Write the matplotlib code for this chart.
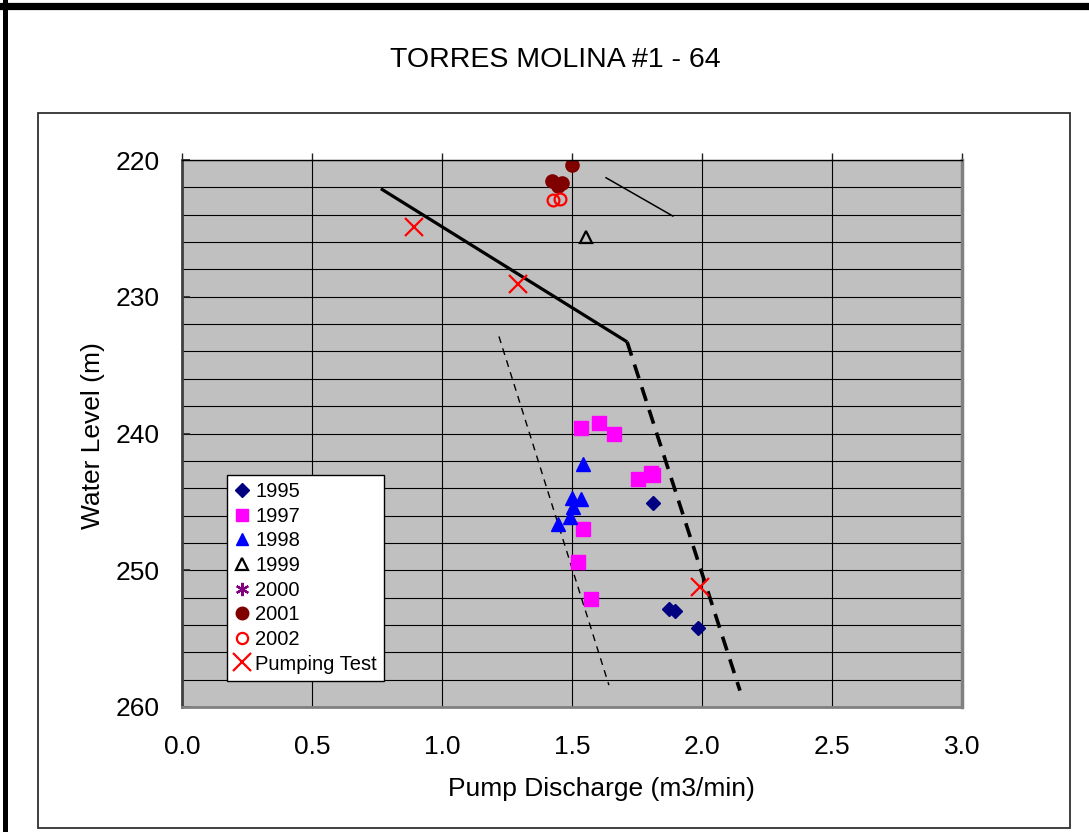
import numpy as np
import matplotlib
matplotlib.use("Agg")
import matplotlib.pyplot as plt
from matplotlib.ticker import MultipleLocator
from matplotlib.lines import Line2D
from matplotlib.patches import Rectangle

plt.rcParams['font.family'] = ['Liberation Sans', 'DejaVu Sans']

# data: pump discharge (m3/min), water level (m)
q_1995 = [1.812, 1.873, 1.896, 1.985]
wl_1995 = [245.1, 252.8, 253.0, 254.2]

q_1997 = [1.535, 1.604, 1.662, 1.754, 1.804, 1.812, 1.542, 1.523, 1.573]
wl_1997 = [239.6, 239.2, 240.0, 243.3, 242.9, 243.0, 247.0, 249.4, 252.1]

q_1998 = [1.542, 1.500, 1.535, 1.504, 1.492, 1.446]
wl_1998 = [242.2, 244.7, 244.8, 245.4, 246.1, 246.6]

q_1999 = [1.554]
wl_1999 = [225.6]

q_2000 = []
wl_2000 = []

q_2001 = [1.500, 1.423, 1.462, 1.445]
wl_2001 = [220.4, 221.5, 221.7, 221.9]

q_2002 = [1.427, 1.454]
wl_2002 = [222.9, 222.85]

q_test = [0.892, 1.292, 1.992]
wl_test = [224.9, 229.1, 251.2]

# hand drawn trend lines
solid_q = [0.765, 1.712]
solid_wl = [222.1, 233.3]
thick_dash_q = [1.712, 2.146]
thick_dash_wl = [233.3, 258.8]
thin_dash_q = [1.219, 1.642]
thin_dash_wl = [232.9, 258.4]
short_q = [1.631, 1.888]
short_wl = [221.3, 224.1]

fig = plt.figure(figsize=(10.89, 8.32), dpi=100)
W, H = 1089.0, 832.0

# outer frame (thick, only top and left visible) and inner chart frame
fig.add_artist(Line2D([0, 1], [1 - 6 / H, 1 - 6 / H], transform=fig.transFigure,
                      color='black', lw=5.2))
fig.add_artist(Line2D([5 / W, 5 / W], [0, 1], transform=fig.transFigure,
                      color='black', lw=3.6))
fig.add_artist(Rectangle((38 / W, 1 - 828 / H), (1070 - 38) / W, (828 - 113) / H,
                         transform=fig.transFigure, fill=False,
                         edgecolor='#303030', lw=1.3))

ax = fig.add_axes([182 / W, 1 - 707 / H, (962 - 182) / W, (707 - 160) / H])
ax.set_facecolor('#C0C0C0')

# trend lines
ax.plot(solid_q, solid_wl, color='black', lw=2.3, solid_capstyle='butt')
ax.plot(thick_dash_q, thick_dash_wl, color='black', lw=2.6, dashes=(4, 2.6))
ax.plot(thin_dash_q, thin_dash_wl, color='black', lw=1.0, dashes=(5, 4))
ax.plot(short_q, short_wl, color='black', lw=1.1)

# data series
ax.plot(q_1995, wl_1995, ls='none', marker='D', ms=7.5, color='#000080', label='1995')
ax.plot(q_1997, wl_1997, ls='none', marker='s', ms=9.5, color='#FF00FF', label='1997')
ax.plot(q_1998, wl_1998, ls='none', marker='^', ms=9.5, color='#0000FF', label='1998')
ax.plot(q_1999, wl_1999, ls='none', marker='^', ms=8.5, mfc='none', mec='black',
        mew=1.6, label='1999')
ax.plot(q_2000, wl_2000, ls='none', marker=(6, 2, 0), ms=10, mec='#800080',
        mew=1.6, label='2000')
ax.plot(q_2001, wl_2001, ls='none', marker='o', ms=9.5, color='#800000', label='2001')
ax.plot(q_2002, wl_2002, ls='none', marker='o', ms=8.5, mfc='none', mec='#FF0000',
        mew=1.6, label='2002')
ax.plot(q_test, wl_test, ls='none', marker='x', ms=13, mec='#FF0000', mew=1.6,
        label='Pumping Test')

ax.set_xlim(0, 3)
ax.set_ylim(260, 220)
ax.xaxis.set_major_locator(MultipleLocator(0.5))
ax.yaxis.set_major_locator(MultipleLocator(10))
ax.yaxis.set_minor_locator(MultipleLocator(2))
ax.xaxis.set_major_formatter(matplotlib.ticker.FormatStrFormatter('%.1f'))
ax.grid(True, which='both', color='black', lw=0.8)
ax.set_axisbelow(True)

ax.tick_params(axis='x', bottom=False, top=True, labelbottom=True, labeltop=False,
               direction='out', length=5, width=1, color='#202020', pad=15,
               labelsize=19)
ax.tick_params(axis='y', which='major', left=True, right=False, direction='in',
               length=6, width=1.2, color='#202020', pad=16, labelsize=19)
ax.tick_params(axis='y', which='minor', length=0)

ax.spines['left'].set_color('#404040')
ax.spines['left'].set_linewidth(2)
ax.spines['top'].set_color('black')
ax.spines['top'].set_linewidth(1)
ax.spines['right'].set_color('#808080')
ax.spines['right'].set_linewidth(2.5)
ax.spines['bottom'].set_color('#808080')
ax.spines['bottom'].set_linewidth(2)

leg = ax.legend(loc='upper left', bbox_to_anchor=(45 / 780, (707 - 475) / 547),
                borderaxespad=0, fontsize=14.5, frameon=True, fancybox=False,
                edgecolor='black', framealpha=1, handlelength=0.8,
                handletextpad=0.25, labelspacing=0.28, borderpad=0.35,
                markerscale=0.95)
leg.get_frame().set_linewidth(1)

fig.text(555 / W, 1 - 60 / H, 'TORRES MOLINA #1 - 64', ha='center', va='center',
         fontsize=20.5)
fig.text(93 / W, 1 - 436 / H, 'Water Level (m)', ha='center', va='center',
         rotation=90, fontsize=19)
fig.text(601 / W, 1 - 789 / H, 'Pump Discharge (m3/min)', ha='center', va='center',
         fontsize=19)

fig.savefig('out.png', dpi=100)
